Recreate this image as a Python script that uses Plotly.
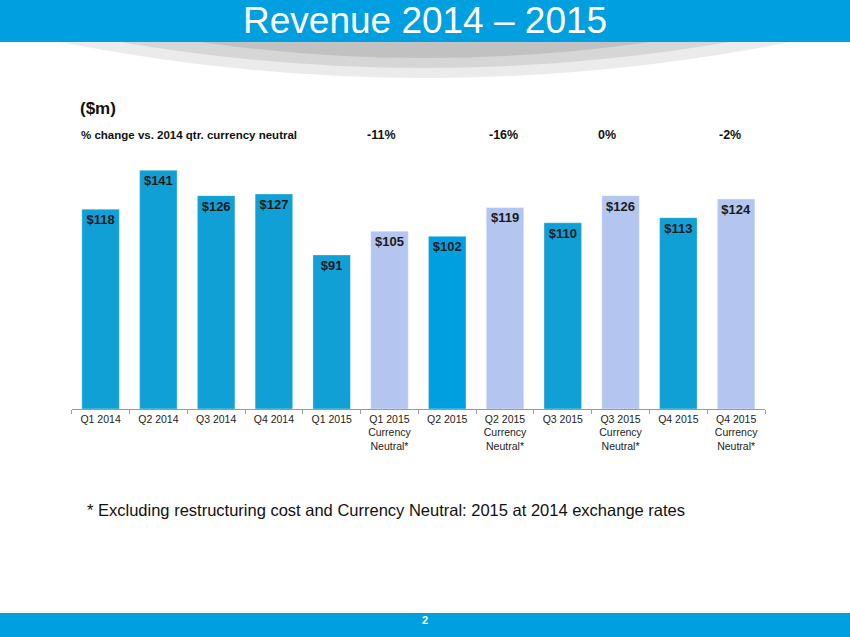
import plotly.graph_objects as go

# Revenue by quarter ($m)
quarters = ["Q1 2014", "Q2 2014", "Q3 2014", "Q4 2014", "Q1 2015",
            "Q1 2015<br>Currency<br>Neutral*", "Q2 2015",
            "Q2 2015<br>Currency<br>Neutral*", "Q3 2015",
            "Q3 2015<br>Currency<br>Neutral*", "Q4 2015",
            "Q4 2015<br>Currency<br>Neutral*"]
revenue = [118, 141, 126, 127, 91, 105, 102, 119, 110, 126, 113, 124]
bar_colors = ["#11A0D5", "#11A0D5", "#11A0D5", "#11A0D5", "#11A0D5", "#B4C6F0",
              "#00A0E0", "#B4C6F0", "#11A0D5", "#B4C6F0", "#11A0D5", "#B4C6F0"]

# % change vs 2014 quarter, currency neutral
pct_at = [quarters[5], quarters[7], quarters[9], quarters[11]]
pct_change = ["-11%", "-16%", "0%", "-2%"]
pct_shift = [-8, -2, -14, -6]

FONT = "Liberation Sans, Arial"

fig = go.Figure(go.Bar(
    x=quarters, y=revenue,
    marker=dict(color=bar_colors, line=dict(color="rgba(255,255,255,0.35)", width=1)),
    text=["$%d" % v for v in revenue],
    textposition="inside", insidetextanchor="end",
    textfont=dict(family=FONT, size=13, color="#1a1a1a"),
    texttemplate="<b>%{text}</b>",
    textangle=0,
    hoverinfo="x+y",
))

# header band with a soft shadow under it
for x0, x1, dy, op in [(60, 790, 36, 0.12), (120, 730, 26, 0.14), (200, 650, 16, 0.16)]:
    fig.add_shape(type="path", xref="paper", yref="paper", layer="below",
                  path="M %f,%f Q %f,%f %f,%f Z" % (
                      x0 / 850, 1 - 42 / 637, 0.5, 1 - (42 + 2 * dy) / 637,
                      x1 / 850, 1 - 42 / 637),
                  fillcolor="rgba(90,90,90,%f)" % op, line=dict(width=0))
fig.add_shape(type="rect", xref="paper", yref="paper", x0=0, x1=1,
              y0=1 - 42 / 637, y1=1, fillcolor="#009FDF", line=dict(width=0))
fig.add_shape(type="rect", xref="paper", yref="paper", x0=0, x1=1,
              y0=0, y1=1 - 613 / 637, fillcolor="#009FDF", line=dict(width=0))


def note(text, x, y, size, color="#111111", xanchor="center", xref="paper", xshift=0):
    fig.add_annotation(text=text, xref=xref, yref="paper", x=x, y=1 - y / 637,
                       xanchor=xanchor, yanchor="middle", xshift=xshift,
                       showarrow=False, font=dict(family=FONT, size=size, color=color))


note("Revenue 2014 – 2015", 0.5, 21, 37, color="white")
note("<b>2</b>", 0.5, 620, 11, color="white")
note("<b>($m)</b>", 78 / 850, 108, 17, xanchor="left")
note("<b>% change vs. 2014 qtr. currency neutral</b>", 79 / 850, 135, 11.5, xanchor="left")
for q, p, s in zip(pct_at, pct_change, pct_shift):
    note("<b>%s</b>" % p, q, 135, 12.5, xref="x", xshift=s)
note("* Excluding restructuring cost and Currency Neutral: 2015 at 2014 exchange rates",
     85 / 850, 510, 16.5, xanchor="left")

fig.update_layout(
    width=850, height=637,
    margin=dict(l=0, r=0, t=0, b=0),
    paper_bgcolor="white", plot_bgcolor="white",
    showlegend=False, bargap=0.35,
    xaxis=dict(domain=[71.7 / 850, 765 / 850], showline=True, linecolor="#9a9a9a",
               linewidth=1, ticks="outside", tickson="boundaries", ticklen=4,
               tickcolor="#9a9a9a", tickfont=dict(family=FONT, size=10.5, color="#222222"),
               showgrid=False),
    yaxis=dict(domain=[1 - 409 / 637, 1 - 155 / 637], range=[0, 150], visible=False,
               showgrid=False),
)

# drop the default page margin so the figure fills the window
fig.write_html("out.html", config={"displayModeBar": False},
               post_script="document.body.style.margin='0';")
